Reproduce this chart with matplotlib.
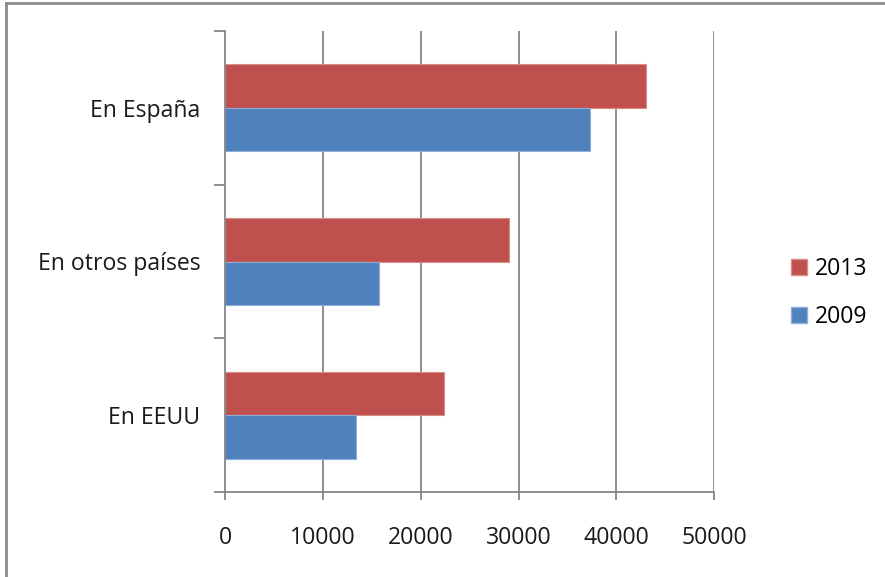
import matplotlib
matplotlib.use("Agg")
import matplotlib.pyplot as plt
from matplotlib.lines import Line2D
from matplotlib.patches import Patch

categories = ["En EEUU", "En otros países", "En España"]
series_names = ["2013", "2009"]
values_2013 = [22400, 29000, 43000]
values_2009 = [13400, 15700, 37300]
xticks = [0, 10000, 20000, 30000, 40000, 50000]

red = "#C0504D"
blue = "#4F81BD"
grid_col = "#868686"
fs = 16.6

plt.rcParams['font.family'] = ['Open Sans', 'DejaVu Sans']

fig = plt.figure(figsize=(8.85, 5.77), dpi=100)
ax = fig.add_axes([225.3/885, 1-492/577, (714-225.3)/885, (492-31)/577])

h = 0.283
ys = list(range(len(categories)))
ax.barh([y + h/2 for y in ys], values_2013, height=h, color=red,
        edgecolor="#D98C8A", linewidth=0.8, zorder=3, label=series_names[0])
ax.barh([y - h/2 for y in ys], values_2009, height=h, color=blue,
        edgecolor="#8EAED8", linewidth=0.8, zorder=3, label=series_names[1])

ax.set_xlim(0, 50000)
ax.set_ylim(-0.5, len(categories) - 0.5)
ax.set_xticks(xticks)
ax.set_xticklabels([str(v) for v in xticks])
ax.set_yticks(ys)
ax.set_yticklabels(categories)
ax.set_yticks([y - 0.5 for y in range(len(categories) + 1)], minor=True)

for v in xticks[1:]:
    ax.axvline(v, color=grid_col, linewidth=1.3, zorder=1)

for s in ["top", "right"]:
    ax.spines[s].set_visible(False)
for s in ["left", "bottom"]:
    ax.spines[s].set_color(grid_col)
    ax.spines[s].set_linewidth(1.3)
    ax.spines[s].set_zorder(4)

ax.tick_params(axis="x", direction="out", length=6, width=1.3, color=grid_col,
               labelsize=fs, pad=18.5, labelcolor="#1a1a1a")
ax.tick_params(axis="y", which="major", length=0, labelsize=fs, pad=18,
               labelcolor="#1a1a1a")
ax.tick_params(axis="y", which="minor", direction="out", length=8, width=1.3,
               color=grid_col)

handles = [Patch(facecolor=red, edgecolor="#D98C8A"),
           Patch(facecolor=blue, edgecolor="#8EAED8")]
fig.legend(handles, series_names, loc="center left",
           bbox_to_anchor=(779/885, 1-293/577), frameon=False,
           fontsize=fs, handlelength=0.7, handleheight=0.7,
           handletextpad=0.35, labelspacing=1.05, borderpad=0)

# outer chart border (top and left visible)
fig.add_artist(Line2D([6/885, 1], [1-3/577, 1-3/577], color="#8c8c8c", linewidth=2))
fig.add_artist(Line2D([6/885, 6/885], [0, 1-3/577], color="#8c8c8c", linewidth=2))

fig.savefig("out.png", dpi=100, facecolor="white")
